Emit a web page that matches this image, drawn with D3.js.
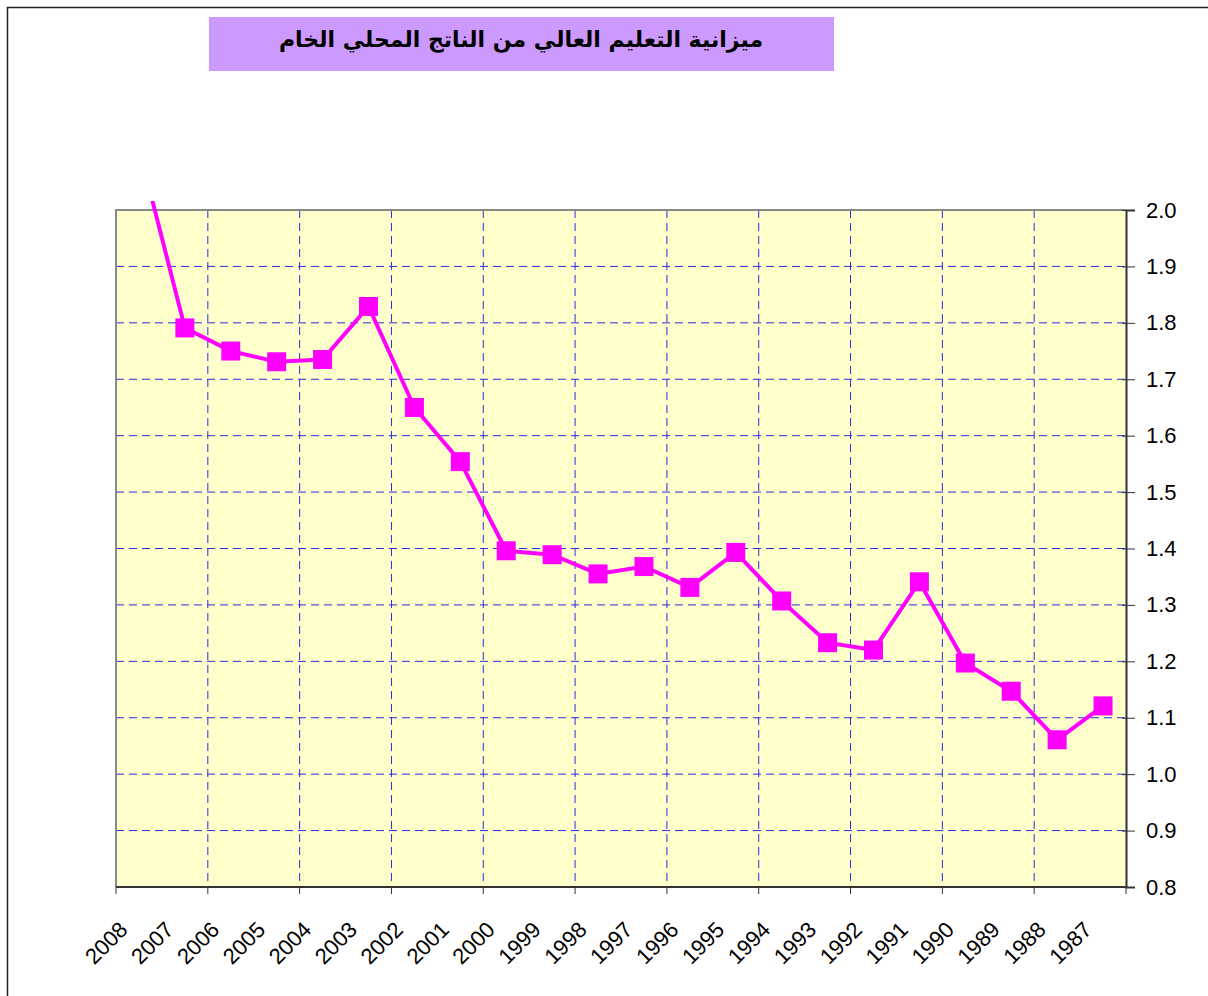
<!DOCTYPE html>
<html>
<head>
<meta charset="utf-8">
<script src="https://cdn.jsdelivr.net/npm/d3@7"></script>
<style>
  body { margin: 0; background: #fff; }
  svg { display: block; font-family: "Liberation Sans", Arial, sans-serif; }
</style>
</head>
<body>
<div id="chart"></div>
<script>
// years, left to right as in the original sheet
var years = ["2008","2007","2006","2005","2004","2003","2002","2001","2000","1999","1998",
             "1997","1996","1995","1994","1993","1992","1991","1990","1989","1988","1987"];
// higher education budget as % of GDP
var values = [2.11, 1.791, 1.750, 1.731, 1.735, 1.829, 1.650, 1.554, 1.396, 1.389, 1.355,
              1.368, 1.331, 1.393, 1.307, 1.233, 1.220, 1.341, 1.197, 1.147, 1.061, 1.121];
var yTicks = [0.8, 0.9, 1.0, 1.1, 1.2, 1.3, 1.4, 1.5, 1.6, 1.7, 1.8, 1.9, 2.0];
var title = "ميزانية التعليم العالي من الناتج المحلي الخام";

var width = 1208, height = 996;
var plot = {left: 116, top: 210, right: 1126, bottom: 887};

var svg = d3.select("#chart").append("svg").attr("width", width).attr("height", height);

// outer chart frame (runs off the right / bottom of the picture)
svg.append("rect")
    .attr("x", 7.5).attr("y", 7.5)
    .attr("width", 1300).attr("height", 1100)
    .attr("fill", "none").attr("stroke", "#222").attr("stroke-width", 1.5);

// title box
svg.append("rect")
    .attr("x", 209).attr("y", 17).attr("width", 625).attr("height", 54)
    .attr("fill", "#cc99ff");
svg.append("text")
    .attr("x", 521).attr("y", 47)
    .attr("text-anchor", "middle")
    .attr("direction", "rtl")
    .attr("font-size", 22).attr("font-weight", "bold")
    .attr("font-family", "'DejaVu Sans', 'Noto Sans', Arial, sans-serif")
    .text(title);

var x = d3.scaleBand().domain(years).range([plot.left, plot.right]);
var y = d3.scaleLinear().domain([0.8, 2.0]).range([plot.bottom, plot.top]);

// plot background
svg.append("rect")
    .attr("x", plot.left).attr("y", plot.top)
    .attr("width", plot.right - plot.left).attr("height", plot.bottom - plot.top)
    .attr("fill", "#ffffcc");

// gridlines: one vertical every two categories
var boundaries = d3.range(0, years.length + 1, 2).map(function(i) { return plot.left + i * x.bandwidth(); });
svg.append("g").selectAll("line")
    .data(boundaries.slice(1, -1))
    .enter().append("line")
    .attr("x1", function(d) { return d; }).attr("x2", function(d) { return d; })
    .attr("y1", plot.top).attr("y2", plot.bottom)
    .attr("stroke", "#2b2be0").attr("stroke-dasharray", "8,5");
svg.append("g").selectAll("line")
    .data(yTicks.slice(1, -1))
    .enter().append("line")
    .attr("x1", plot.left).attr("x2", plot.right)
    .attr("y1", function(d) { return y(d); }).attr("y2", function(d) { return y(d); })
    .attr("stroke", "#2b2be0").attr("stroke-dasharray", "8,5");

// plot border: grey top / left
svg.append("path")
    .attr("d", "M" + plot.left + "," + plot.bottom + "V" + plot.top + "H" + plot.right)
    .attr("fill", "none").attr("stroke", "#888").attr("stroke-width", 2);

// right value axis
var yAxis = svg.append("g")
    .attr("transform", "translate(" + plot.right + ",0)")
    .call(d3.axisRight(y).tickValues(yTicks).tickFormat(d3.format(".1f")).tickSize(9).tickPadding(11));
yAxis.select(".domain").attr("stroke", "#333").attr("stroke-width", 2);
yAxis.selectAll(".tick line").attr("stroke", "#333").attr("x1", -4);
yAxis.selectAll("text").attr("font-size", 22).attr("fill", "#000")
    .attr("font-family", "'Liberation Sans', Arial, sans-serif");

// bottom category axis
var xAxis = svg.append("g").attr("transform", "translate(0," + plot.bottom + ")");
xAxis.append("line")
    .attr("x1", plot.left).attr("x2", plot.right)
    .attr("stroke", "#333").attr("stroke-width", 2);
xAxis.selectAll(".xt").data(boundaries).enter().append("line")
    .attr("x1", function(d) { return d; }).attr("x2", function(d) { return d; })
    .attr("y1", 0).attr("y2", 7).attr("stroke", "#333");
xAxis.selectAll("text").data(years).enter().append("text")
    .attr("transform", function(d) {
        return "translate(" + (x(d) + x.bandwidth() / 2 - 10) + ",44) rotate(-45)";
    })
    .attr("text-anchor", "end")
    .attr("font-size", 22)
    .text(function(d) { return d; });

// series, clipped a little above the plot top like the original
svg.append("clipPath").attr("id", "clip").append("rect")
    .attr("x", plot.left).attr("y", plot.top - 9)
    .attr("width", plot.right - plot.left).attr("height", plot.bottom - plot.top + 9);

var series = years.map(function(d, i) { return {year: d, value: values[i]}; });
var line = d3.line()
    .x(function(d) { return x(d.year) + x.bandwidth() / 2; })
    .y(function(d) { return y(d.value); });

var g = svg.append("g").attr("clip-path", "url(#clip)");
g.append("path")
    .datum(series)
    .attr("d", line)
    .attr("fill", "none").attr("stroke", "#ff00ff").attr("stroke-width", 4);

var m = 19;
svg.append("g").selectAll("rect")
    .data(series.filter(function(d) { return d.value <= 2.0; }))
    .enter().append("rect")
    .attr("x", function(d) { return x(d.year) + x.bandwidth() / 2 - m / 2; })
    .attr("y", function(d) { return y(d.value) - m / 2; })
    .attr("width", m).attr("height", m)
    .attr("fill", "#ff00ff");
</script>
</body>
</html>
